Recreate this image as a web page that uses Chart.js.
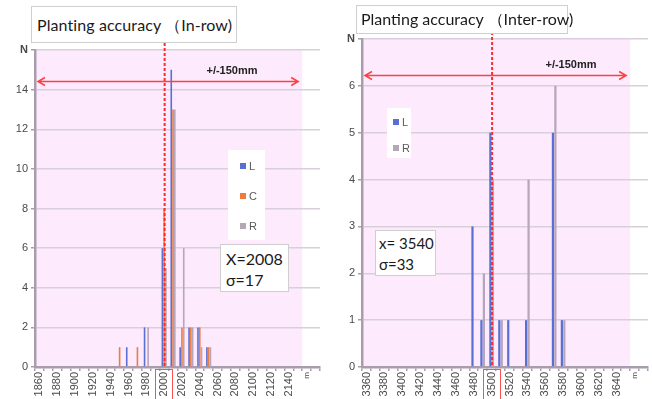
<!DOCTYPE html>
<html>
<head>
<meta charset="utf-8">
<script src="https://cdn.jsdelivr.net/npm/chart.js@4.4.1/dist/chart.umd.min.js"></script>
<style>
body { margin: 0; background: #fff; width: 652px; height: 399px; overflow: hidden; position: relative; font-family: Lato, 'Noto Sans', sans-serif; }
.wrap { position: absolute; top: 0; width: 326px; height: 399px; }
.box { position: absolute; background: #fff; border: 1px solid #cfcfcf; color: #1a1a1a; white-space: nowrap; box-sizing: border-box; }
</style>
</head>
<body>
<div class="wrap" style="left:0"><canvas id="inRow"></canvas></div>
<div class="wrap" style="left:326px"><canvas id="interRow"></canvas></div>
<div class="box" style="left:31px;top:6px;width:206px;height:37px;font-size:16px;letter-spacing:0.1px;padding:8px 0 0 5px">Planting accuracy （In-row)</div>
<div class="box" style="left:356px;top:5px;width:212px;height:29px;font-size:16px;padding:3px 0 0 4px">Planting accuracy （Inter-row)</div>
<div class="box" style="left:220px;top:244px;width:69px;height:48px;font-size:16px;line-height:21px;padding:3px 0 0 5px">X=2008<br>σ=17</div>
<div class="box" style="left:375px;top:230px;width:61px;height:46px;font-size:15px;line-height:21px;padding:2px 0 0 3px">x= 3540<br>σ=33</div>
<script>
// In-row, 10 mm bins
const inRowCats = ['1860','1870','1880','1890','1900','1910','1920','1930','1940','1950',
  '1960','1970','1980','1990','2000','2010','2020','2030','2040','2050',
  '2060','2070','2080','2090','2100','2110','2120','2130','2140','2150','2160','2170'];
const inRowTicks = ['1860','','1880','','1900','','1920','','1940','',
  '1960','','1980','','2000','','2020','','2040','',
  '2060','','2080','','2100','','2120','','2140','','m',''];
const inRowL = [0,0,0,0,0,0,0,0,0,0, 1,0,2,0,6,15,1,2,2,1, 0,0,0,0,0,0,0,0,0,0,0,0];
const inRowC = [0,0,0,0,0,0,0,0,0,1, 0,1,0,0,8,13,2,2,2,1, 0,0,0,0,0,0,0,0,0,0,0,0];
const inRowR = [0,0,0,0,0,0,0,0,0,0, 0,0,2,0,5,13,6,2,1,1, 0,0,0,0,0,0,0,0,0,0,0,0];

// Inter-row, 10 mm bins
const interRowCats = ['3360','3370','3380','3390','3400','3410','3420','3430','3440','3450',
  '3460','3470','3480','3490','3500','3510','3520','3530','3540','3550',
  '3560','3570','3580','3590','3600','3610','3620','3630','3640','3650','3660','3670'];
const interRowTicks = ['3360','','3380','','3400','','3420','','3440','',
  '3460','','3480','','3500','','3520','','3540','',
  '3560','','3580','','3600','','3620','','3640','','m',''];
const interRowL = [0,0,0,0,0,0,0,0,0,0, 0,0,3,1,5,1,1,0,1,0, 0,5,1,0,0,0,0,0,0,0,0,0];
const interRowR = [0,0,0,0,0,0,0,0,0,0, 0,0,0,2,4,1,0,0,4,0, 0,6,1,0,0,0,0,0,0,0,0,0];

const BLUE = '#5a6fd4', ORANGE = '#ef7b3f', GREY = '#b5a6ba';
const AXIS = '#a99cad', GRID = '#d8cfdb', TXT = '#4a4a4a';

const decor = {
  id: 'decor',
  beforeDraw(chart, args, o) {
    const { ctx, chartArea: a, scales: { x } } = chart;
    const half = (x.getPixelForValue(1) - x.getPixelForValue(0)) / 2;
    ctx.save();
    ctx.fillStyle = '#fdeafd';
    ctx.fillRect(a.left, a.top, x.getPixelForValue(o.pinkTo) + half - a.left, a.bottom - a.top);
    ctx.restore();
  },
  beforeDatasetsDraw(chart, args, o) {
    const { ctx } = chart;
    const lg = o.legend;
    ctx.save();
    ctx.fillStyle = '#fff';
    ctx.fillRect(lg.x, lg.y, lg.w, lg.h);
    ctx.font = '11px "Liberation Sans", Arial, sans-serif';
    ctx.textBaseline = 'middle';
    chart.data.datasets.forEach((ds, i) => {
      const cy = lg.first + i * lg.gap;
      ctx.fillStyle = ds.backgroundColor;
      ctx.fillRect(lg.sx, cy - 3, 6, 6);
      ctx.fillStyle = '#595959';
      ctx.fillText(ds.label, lg.sx + 9, cy + 0.5);
    });
    ctx.restore();
  },
  afterDatasetsDraw(chart, args, o) {
    const { ctx, chartArea: a, scales: { x, y } } = chart;
    const half = (x.getPixelForValue(1) - x.getPixelForValue(0)) / 2;
    const tx = x.getPixelForValue(o.target) + o.lineShift;
    ctx.save();
    // dashed target line
    ctx.strokeStyle = '#ff2a2a';
    ctx.lineWidth = 2;
    ctx.setLineDash([3, 2]);
    ctx.beginPath();
    ctx.moveTo(tx, a.top - 12);
    ctx.lineTo(tx, a.bottom);
    ctx.stroke();
    // +/-150mm arrow
    const ay = Math.round(y.getPixelForValue(o.arrowAt)) + 0.5;
    const x0 = a.left + 3, x1 = x.getPixelForValue(o.pinkTo) + half - 4;
    ctx.setLineDash([]);
    ctx.lineWidth = 1.5;
    ctx.strokeStyle = '#ff4040';
    ctx.beginPath();
    ctx.moveTo(x0, ay); ctx.lineTo(x1, ay);
    ctx.moveTo(x0 + 7, ay - 4); ctx.lineTo(x0, ay); ctx.lineTo(x0 + 7, ay + 4);
    ctx.moveTo(x1 - 7, ay - 4); ctx.lineTo(x1, ay); ctx.lineTo(x1 - 7, ay + 4);
    ctx.stroke();
    ctx.fillStyle = '#222';
    ctx.font = 'bold 11px "Liberation Sans", Arial, sans-serif';
    ctx.textAlign = 'center';
    ctx.textBaseline = 'middle';
    ctx.fillText('+/-150mm', o.textX, ay - 11);
    ctx.restore();
  },
  afterDraw(chart, args, o) {
    const { ctx, chartArea: a, scales: { x } } = chart;
    const tx = x.getPixelForValue(o.target);
    ctx.save();
    ctx.strokeStyle = '#ff5050';
    ctx.lineWidth = 1;
    ctx.strokeRect(Math.round(tx) - 8.5, a.bottom + 2.5, 17, 40);
    ctx.restore();
  }
};

function makeChart(id, cats, ticks, datasets, yMax, yStep, padTop, decorOpts, catPct) {
  return new Chart(document.getElementById(id), {
    type: 'bar',
    data: { labels: cats, datasets },
    options: {
      responsive: true,
      maintainAspectRatio: false,
      animation: false,
      layout: { padding: { top: padTop, right: decorOpts.padRight, left: 0, bottom: 0 } },
      datasets: { bar: { categoryPercentage: catPct, barPercentage: 0.9 } },
      plugins: { legend: { display: false }, tooltip: { enabled: false }, decor: decorOpts },
      scales: {
        x: {
          afterFit: (s) => { s.height = 32; s.paddingLeft = 0; s.paddingRight = 0; },
          grid: { drawOnChartArea: false, drawTicks: true, tickLength: 4, color: AXIS, lineWidth: 1.5 },
          border: { color: AXIS, width: 2.5 },
          ticks: {
            autoSkip: false, minRotation: 90, maxRotation: 90, padding: 1, color: TXT,
            font: (c) => ({ family: '"Liberation Sans", Arial, sans-serif', size: ticks[c.index] === 'm' ? 8 : 11 }),
            callback: (v, i) => ticks[i]
          }
        },
        y: {
          min: 0, max: yMax,
          afterFit: (s) => { s.width = decorOpts.yWidth; },
          grid: { color: GRID, lineWidth: 1.5, tickLength: 4, tickColor: AXIS },
          border: { color: AXIS, width: 2.5 },
          ticks: {
            stepSize: yStep, padding: 3, color: TXT,
            font: (c) => ({ family: '"Liberation Sans", Arial, sans-serif', size: 11, weight: c.tick && c.tick.value === yMax ? 'bold' : 'normal' }),
            callback: (v) => (v === yMax ? 'N' : v)
          }
        }
      }
    },
    plugins: [decor]
  });
}

makeChart('inRow', inRowCats, inRowTicks, [
  { label: 'L', data: inRowL, backgroundColor: BLUE },
  { label: 'C', data: inRowC, backgroundColor: ORANGE },
  { label: 'R', data: inRowR, backgroundColor: GREY }
], 16, 2, 50, {
  pinkTo: 29, target: 14, lineShift: 0.5, arrowAt: 14.45, textX: 232, padRight: 6, yWidth: 35,
  legend: { x: 228, y: 150, w: 37, h: 90, sx: 240, first: 166, gap: 30 }
}, 0.6);

makeChart('interRow', interRowCats, interRowTicks, [
  { label: 'L', data: interRowL, backgroundColor: BLUE },
  { label: 'R', data: interRowR, backgroundColor: GREY }
], 7, 1, 39, {
  pinkTo: 29, target: 14, lineShift: 0.5, arrowAt: 6.23, textX: 245, padRight: 4, yWidth: 36,
  legend: { x: 61, y: 108, w: 24, h: 50, sx: 67, first: 122, gap: 26 }
}, 0.55);
</script>
</body>
</html>
